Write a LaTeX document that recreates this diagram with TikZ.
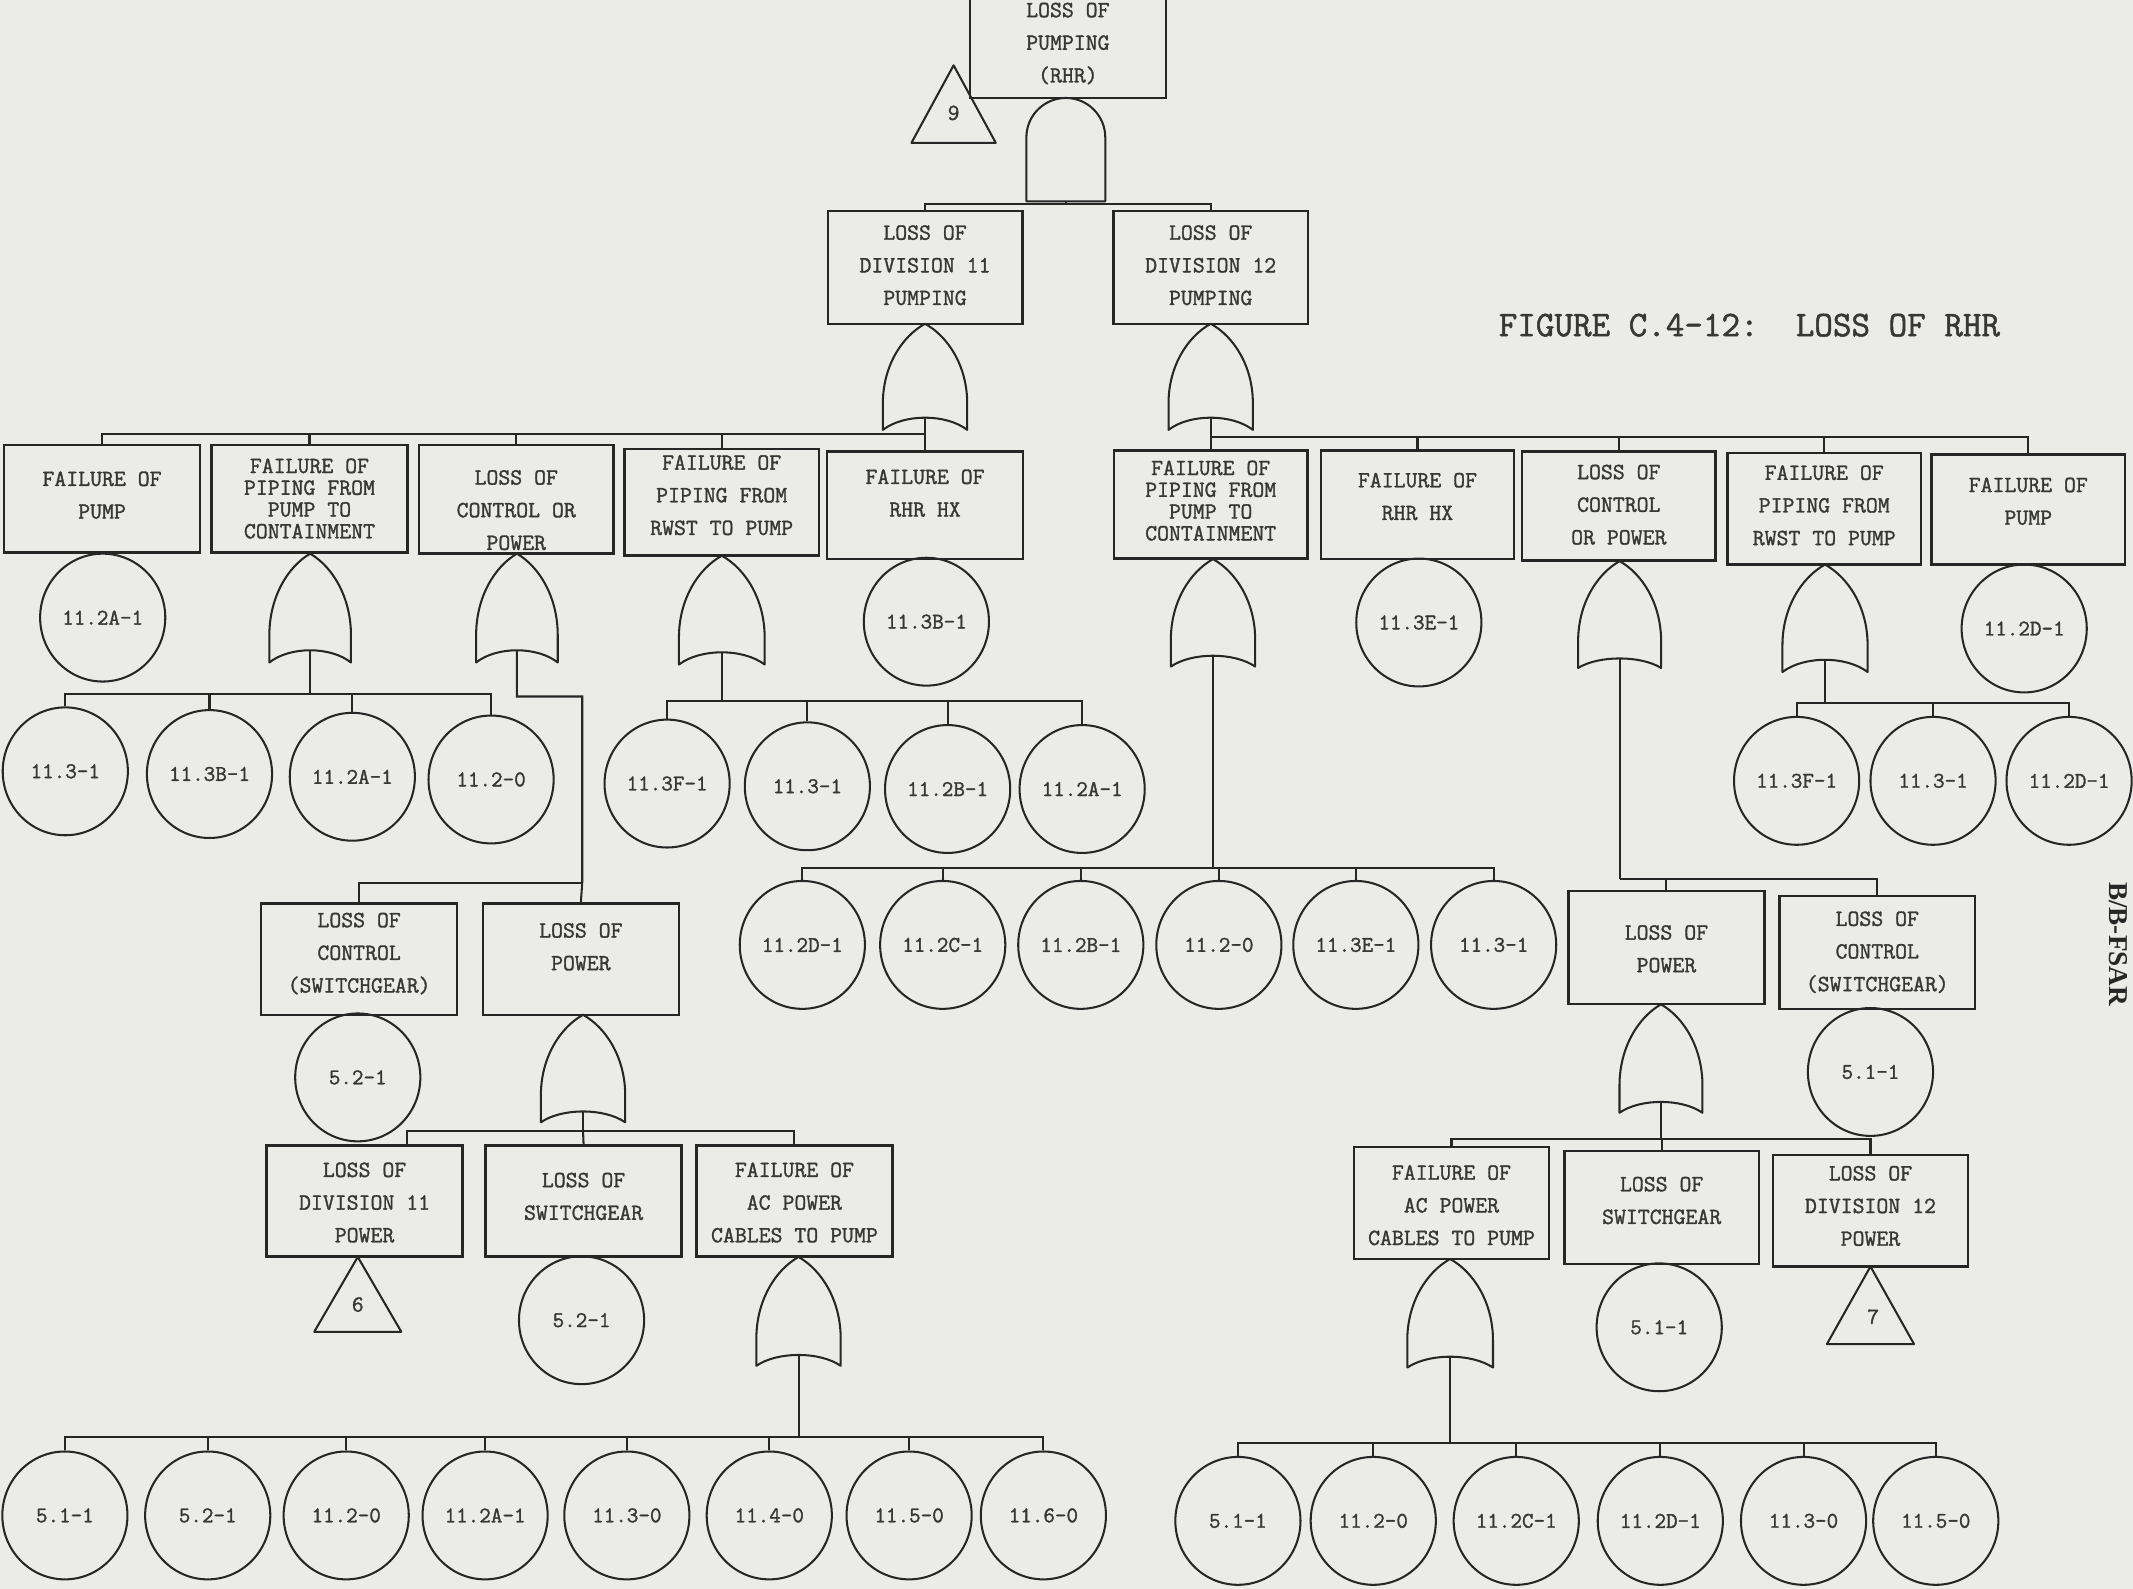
\documentclass[tikz,border=0pt]{standalone}
\usepackage{fontspec}
\usetikzlibrary{shapes.geometric}
\newfontfamily\ser{Liberation Serif}
\newfontfamily\tw{Latin Modern Mono}[FakeBold=1.4]
\definecolor{paper}{RGB}{235,235,232}
\definecolor{ink}{RGB}{38,38,38}
\definecolor{tink}{RGB}{55,55,55}
\tikzset{
 bx/.style={draw=ink, line width=1.8pt, rectangle, inner sep=0pt},
 ev/.style={draw=ink, line width=1.5pt, ellipse, inner sep=0pt, minimum width=92pt, minimum height=94pt, font=\tw\fontsize{16.5}{18}\selectfont, text=tink},
 tx/.style={font=\tw\fontsize{17}{24}\selectfont, text=tink, align=center, inner sep=0pt},
 txf/.style={font=\tw\fontsize{17}{16}\selectfont, text=tink, align=center, inner sep=0pt},
 ln/.style={draw=ink, line width=1.5pt},
 gt/.style={draw=ink, line width=1.5pt, line join=round},
}
\newcommand\orgate[6]{%
 \draw[gt] (#2,#3) .. controls ({#2+0.55*#4},{#3+0.12*#5}) and ({#2+#4},{#3+0.4*#5}) .. ({#2+#4},{#3+0.75*#5}) -- ({#2+#4},{#3+#5})
   .. controls ({#2+0.5*#4},{#3+#5-1.33*#6}) and ({#2-0.5*#4},{#3+#5-1.33*#6}) .. ({#2-#4},{#3+#5})
   -- ({#2-#4},{#3+0.75*#5}) .. controls ({#2-#4},{#3+0.4*#5}) and ({#2-0.55*#4},{#3+0.12*#5}) .. cycle;
 \coordinate (#1-in) at (#2,#3);
 \coordinate (#1-out) at (#2,{#3+#5-#6});}
\newcommand\mkbox[8]{%
 \node[bx,minimum width=#5,minimum height={#4-#3}] (#1) at (#2,{(#3+#4)/2}) {};
 \node[#7] (#1-t) at (#2,#6) {#8};}
\begin{document}
\begin{tikzpicture}[x=1pt,y=-1pt]
\useasboundingbox (0,0) rectangle (1568,1168);
\fill[paper] (0,0) rectangle (1568,1168);

% ---- top
\mkbox{top}{785}{-6}{72}{144}{32}{tx}{LOSS OF\\PUMPING\\(RHR)}
\draw[gt] (701,48) -- (732,105) -- (670,105) -- cycle;
\node[tx] (t9) at (701,83) {9};
\draw[gt] (754.5,148) -- (754.5,101) .. controls (754.5,85) and (767.5,72) .. (783.5,72)
  .. controls (799.5,72) and (812.5,85) .. (812.5,101) -- (812.5,148) -- cycle;
\coordinate (andg-out) at (783.5,148);
\coordinate (busA) at (783.5,150);

\mkbox{d11}{680}{155}{238}{143}{195}{tx}{LOSS OF\\DIVISION 11\\PUMPING}
\mkbox{d12}{890}{155}{238}{143}{195}{tx}{LOSS OF\\DIVISION 12\\PUMPING}
\draw[ln] (andg-out) -- (busA);
\draw[ln] (busA) -| (d11.north);
\draw[ln] (busA) -| (d12.north);

\node[font=\tw\fontsize{26.5}{28}\selectfont, text=tink] (title) at (1286,239) {FIGURE C.4-12:\ \ LOSS OF RHR};
\node[font=\ser\bfseries\fontsize{20}{24}\selectfont, text=ink, rotate=-90] (fsar) at (1557,694) {B/B-FSAR};

% ---- left division
\orgate{g11}{680}{238}{31}{78}{9}
\coordinate (busL) at (680,319);
\draw[ln] (g11-out) -- (busL);
\mkbox{b1}{75}{327}{406}{144}{364}{tx}{FAILURE OF\\PUMP}
\mkbox{b2}{227.5}{327}{406}{144}{366.5}{txf}{FAILURE OF\\PIPING FROM\\PUMP TO\\CONTAINMENT}
\mkbox{b3}{379.5}{327}{407}{143}{375}{tx}{LOSS OF\\CONTROL OR\\POWER}
\mkbox{b4}{530.5}{330}{408.5}{143}{364}{tx}{FAILURE OF\\PIPING FROM\\RWST TO PUMP}
\mkbox{b5}{680}{332}{411}{144}{362.5}{tx}{FAILURE OF\\RHR HX}
\foreach \b in {b1,b2,b3,b4,b5} {\draw[ln] (busL) -| (\b.north);}

\node[ev] (e1) at (75.5,454) {11.2A-1};

\orgate{g2}{228}{407}{30}{80}{9}
\coordinate (busB2) at (228,510);
\draw[ln] (g2-out) -- (busB2);
\node[ev] (c21) at (48,567) {11.3-1};
\node[ev] (c22) at (154,569) {11.3B-1};
\node[ev] (c23) at (259,571) {11.2A-1};
\node[ev] (c24) at (361,573) {11.2-0};
\foreach \c in {c21,c22,c23,c24} {\draw[ln] (busB2) -| (\c.north);}

\orgate{g3}{380}{407}{30}{80}{9}
\coordinate (k1) at (380,512);
\coordinate (k2) at (428,512);
\coordinate (busC) at (428,649);
\mkbox{lc}{264}{664}{746}{144}{701}{tx}{LOSS OF\\CONTROL\\(SWITCHGEAR)}
\mkbox{lp}{427}{664}{746}{144}{696}{tx}{LOSS OF\\POWER}
\draw[ln] (g3-out) -- (k1) -- (k2) -- (busC) -- (lp.north);
\draw[ln] (busC) -| (lc.north);
\node[ev] (e2) at (263,792) {5.2-1};

\orgate{g4}{428.6}{746}{31}{79}{8}
\coordinate (busD) at (428.6,831.5);
\draw[ln] (g4-out) -- (busD);
\mkbox{d11p}{268}{842}{923.5}{144}{884}{tx}{LOSS OF\\DIVISION 11\\POWER}
\mkbox{sw}{429}{842}{923.5}{144}{879.5}{tx}{LOSS OF\\SWITCHGEAR}
\mkbox{ac}{584}{842}{923.5}{144}{884}{tx}{FAILURE OF\\AC POWER\\CABLES TO PUMP}
\draw[ln] (busD) -| ([xshift=31pt]d11p.north);
\draw[ln] (busD) -- (sw.north);
\draw[ln] (busD) -| (ac.north);
\draw[gt] (263,924) -- (295,979) -- (231,979) -- cycle;
\node[tx] (t6) at (263,959) {6};
\node[ev] (e3) at (427.5,970.5) {5.2-1};

\orgate{g5}{587}{924}{31}{80}{8}
\coordinate (busF) at (587,1056.5);
\draw[ln] (g5-out) -- (busF);
\node[ev] (f1) at (47.7,1114) {5.1-1};
\node[ev] (f2) at (152.7,1114) {5.2-1};
\node[ev] (f3) at (254.5,1114) {11.2-0};
\node[ev] (f4) at (356.6,1114) {11.2A-1};
\node[ev] (f5) at (460.8,1114) {11.3-0};
\node[ev] (f6) at (565.5,1114) {11.4-0};
\node[ev] (f7) at (668.3,1114) {11.5-0};
\node[ev] (f8) at (767,1114) {11.6-0};
\foreach \c in {f1,f2,f3,f4,f5,f6,f7,f8} {\draw[ln] (busF) -| (\c.north);}

\orgate{g6}{530.6}{408.5}{31.5}{80}{9}
\coordinate (busB4) at (530.6,515);
\draw[ln] (g6-out) -- (busB4);
\node[ev] (c41) at (490.4,576) {11.3F-1};
\node[ev] (c42) at (593.5,578) {11.3-1};
\node[ev] (c43) at (696.6,580) {11.2B-1};
\node[ev] (c44) at (795.5,580) {11.2A-1};
\foreach \c in {c41,c42,c43,c44} {\draw[ln] (busB4) -| (\c.north);}

\node[ev] (e4) at (681,457) {11.3B-1};

% ---- right division
\orgate{g12}{890}{238}{31}{78}{9}
\coordinate (busR) at (890,321);
\draw[ln] (g12-out) -- (busR);
\mkbox{b6}{890}{331}{410.6}{142}{368}{txf}{FAILURE OF\\PIPING FROM\\PUMP TO\\CONTAINMENT}
\mkbox{b7}{1042}{331}{411}{142}{365}{tx}{FAILURE OF\\RHR HX}
\mkbox{b8}{1190}{332}{412}{142}{371}{tx}{LOSS OF\\CONTROL\\OR POWER}
\mkbox{b9}{1341}{333}{415}{142}{371.5}{tx}{FAILURE OF\\PIPING FROM\\RWST TO PUMP}
\mkbox{b10}{1491}{334}{415}{142}{368.5}{tx}{FAILURE OF\\PUMP}
\foreach \b in {b6,b7,b8,b9,b10} {\draw[ln] (busR) -| (\b.north);}

\orgate{g7}{891.7}{411}{31}{79}{8}
\coordinate (busB6) at (891.7,638);
\draw[ln] (g7-out) -- (busB6);
\node[ev] (c61) at (589.8,694.6) {11.2D-1};
\node[ev] (c62) at (693,694.6) {11.2C-1};
\node[ev] (c63) at (794.5,694.6) {11.2B-1};
\node[ev] (c64) at (896,694.6) {11.2-0};
\node[ev] (c65) at (996.7,694.6) {11.3E-1};
\node[ev] (c66) at (1098,694.6) {11.3-1};
\foreach \c in {c61,c62,c63,c64,c65,c66} {\draw[ln] (busB6) -| (\c.north);}

\node[ev] (e5) at (1043,457.6) {11.3E-1};

\orgate{g8}{1190.6}{412.5}{30.5}{78.5}{7}
\coordinate (busE) at (1190.6,646);
\mkbox{rp}{1225}{655}{738}{144}{697.5}{tx}{LOSS OF\\POWER}
\mkbox{rc}{1380}{658.5}{741.7}{144}{700}{tx}{LOSS OF\\CONTROL\\(SWITCHGEAR)}
\draw[ln] (g8-out) -- (busE);
\draw[ln] (busE) -| (rc.north);
\draw[ln] (busE) -| (rp.north);
\node[ev] (e6) at (1375,788) {5.1-1};

\orgate{g9}{1221}{738.3}{30.5}{79.7}{8}
\coordinate (busG) at (1221,837);
\draw[ln] (g9-out) -- (busG);
\mkbox{rac}{1067}{843}{925.5}{143}{886}{tx}{FAILURE OF\\AC POWER\\CABLES TO PUMP}
\mkbox{rsw}{1221.5}{846}{929}{143}{882.5}{tx}{LOSS OF\\SWITCHGEAR}
\mkbox{rd12}{1375}{849}{931}{143}{886.5}{tx}{LOSS OF\\DIVISION 12\\POWER}
\draw[ln] (busG) -| (rac.north);
\draw[ln] (busG) -| (rsw.north);
\draw[ln] (busG) -| (rd12.north);
\node[ev] (e7) at (1219.7,975.7) {5.1-1};
\draw[gt] (1375,931) -- (1407,988) -- (1343,988) -- cycle;
\node[tx] (t7) at (1377,968) {7};

\orgate{g10}{1066}{925.5}{31.5}{79.8}{8}
\coordinate (busH) at (1066,1061);
\draw[ln] (g10-out) -- (busH);
\node[ev] (h1) at (910,1118) {5.1-1};
\node[ev] (h2) at (1009.5,1118) {11.2-0};
\node[ev] (h3) at (1114.6,1118) {11.2C-1};
\node[ev] (h4) at (1220.5,1118) {11.2D-1};
\node[ev] (h5) at (1325.8,1118) {11.3-0};
\node[ev] (h6) at (1423,1118) {11.5-0};
\foreach \c in {h1,h2,h3,h4,h5,h6} {\draw[ln] (busH) -| (\c.north);}

\orgate{g13}{1341.6}{415}{31.3}{79}{9}
\coordinate (busB9) at (1341.6,517);
\draw[ln] (g13-out) -- (busB9);
\node[ev] (c91) at (1320.7,574) {11.3F-1};
\node[ev] (c92) at (1421,574) {11.3-1};
\node[ev] (c93) at (1521,574) {11.2D-1};
\foreach \c in {c91,c92,c93} {\draw[ln] (busB9) -| (\c.north);}

\node[ev] (e8) at (1488,462) {11.2D-1};
\end{tikzpicture}
\end{document}
